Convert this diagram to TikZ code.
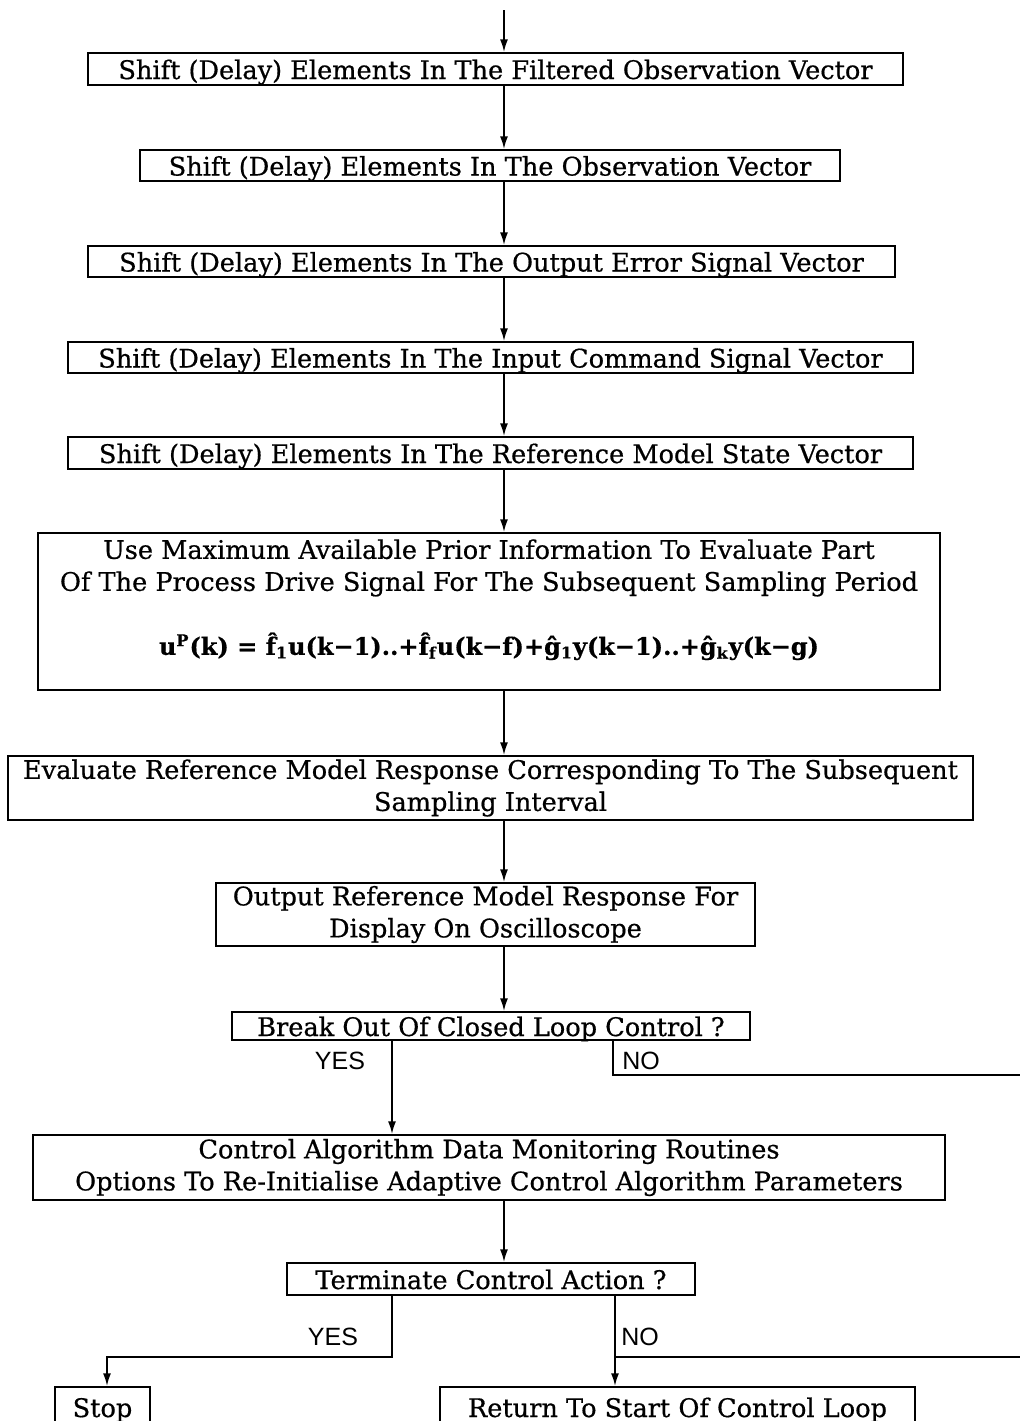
\documentclass[tikz,border=0pt]{standalone}
\usepackage{fontspec}
\setmainfont{DejaVu Serif}[FakeBold=0.6]
\newfontfamily\answerfont{Liberation Sans}
\usetikzlibrary{arrows.meta,positioning,calc}

\begin{document}
\begin{tikzpicture}[x=0.5pt,y=-0.5pt,
  font=\fontsize{12.8}{16}\selectfont,
  stepbox/.style={draw,line width=0.7pt,inner sep=0pt,align=center},
  oneline/.style={text height=10pt,text depth=0pt},
  flow/.style={line width=1pt,-{Latex[length=6.5pt,width=4pt]}},
  branch/.style={line width=1pt},
  answer/.style={font=\answerfont\mdseries\fontsize{12.5}{14}\selectfont}]
\useasboundingbox (0,0) rectangle (1020,1421);
\clip (0,0) rectangle (1020,1421);

% shift registers
\node[stepbox,oneline,minimum width=407.5pt,minimum height=16pt] (filt) at (495.5,69) {Shift (Delay) Elements In The Filtered Observation Vector};
\node[stepbox,oneline,minimum width=350pt,minimum height=15.5pt] (obs) at (490,165.5) {Shift (Delay) Elements In The Observation Vector};
\node[stepbox,oneline,minimum width=403.5pt,minimum height=15.5pt] (err) at (491.5,261.5) {Shift (Delay) Elements In The Output Error Signal Vector};
\node[stepbox,oneline,minimum width=422.5pt,minimum height=15.5pt] (cmd) at (490.5,357.5) {Shift (Delay) Elements In The Input Command Signal Vector};
\node[stepbox,oneline,minimum width=422.5pt,minimum height=16pt] (state) at (490.5,453) {Shift (Delay) Elements In The Reference Model State Vector};

% prior information / drive signal
\node[stepbox,minimum width=451pt,minimum height=78.5pt,
  label={[align=center,anchor=north]north:{Use Maximum Available Prior Information To Evaluate Part\\
    Of The Process Drive Signal For The Subsequent Sampling Period\\[16pt]
    \bfseries\fontsize{12}{16}\selectfont u\textsuperscript{P}(k) = \^{f}\textsubscript{1}u(k−1)..+\^{f}\textsubscript{f}u(k−f)+\^{g}\textsubscript{1}y(k−1)..+\^{g}\textsubscript{k}y(k−g)}}] (prior) at (489,611.5) {};

\node[stepbox,minimum width=482.5pt,minimum height=32pt] (resp) at (490.5,788) {Evaluate Reference Model Response Corresponding To The Subsequent\\Sampling Interval};
\node[stepbox,minimum width=269.5pt,minimum height=31.5pt] (disp) at (485.5,914.5) {Output Reference Model Response For\\Display On Oscilloscope};
\node[stepbox,oneline,minimum width=259pt,minimum height=14pt] (brk) at (491,1026) {Break Out Of Closed Loop Control ?};
\node[stepbox,minimum width=456pt,minimum height=32.5pt] (mon) at (489,1167.5) {Control Algorithm Data Monitoring Routines\\Options To Re-Initialise Adaptive Control Algorithm Parameters};
\node[stepbox,oneline,minimum width=204pt,minimum height=16pt] (term) at (491,1279) {Terminate Control Action ?};
\node[stepbox,oneline,minimum width=47.5pt,minimum height=20pt] (stop) at (102.5,1407) {Stop};
\node[stepbox,oneline,minimum width=237.5pt,minimum height=20pt] (ret) at (677.5,1407) {Return To Start Of Control Loop};

% main line
\coordinate (spine) at (504,0);
\coordinate (start) at (504,10);
\draw[flow] (start) -- (filt.north -| spine);
\foreach \a/\b in {filt/obs,obs/err,err/cmd,cmd/state,state/prior,prior/resp,resp/disp,disp/brk,mon/term}
  \draw[flow] (\a.south -| spine) -- (\b.north -| spine);

% break out decision
\coordinate (brkyes) at (392,0);
\coordinate (brkno) at (613,0);
\coordinate (noout) at (1030,1075);
\draw[flow] (brk.south -| brkyes) -- (mon.north -| brkyes);
\draw[branch] (brk.south -| brkno) |- (noout);
\node[answer] (yes1) at (340,1061) {YES};
\node[answer] (no1) at (641,1061) {NO};

% terminate decision
\coordinate (termyes) at (392,0);
\coordinate (termno) at (615,0);
\coordinate (stopx) at (107,0);
\coordinate (split) at (0,1357);
\coordinate (loopout) at (1030,1357);
\draw[flow] (term.south -| termyes) |- (split -| stopx) -- (stop.north -| stopx);
\draw[flow] (term.south -| termno) -- (ret.north -| termno);
\draw[branch] (split -| termno) -- (loopout);
\node[answer] (yes2) at (333,1337) {YES};
\node[answer] (no2) at (640,1337) {NO};
\end{tikzpicture}
\end{document}
